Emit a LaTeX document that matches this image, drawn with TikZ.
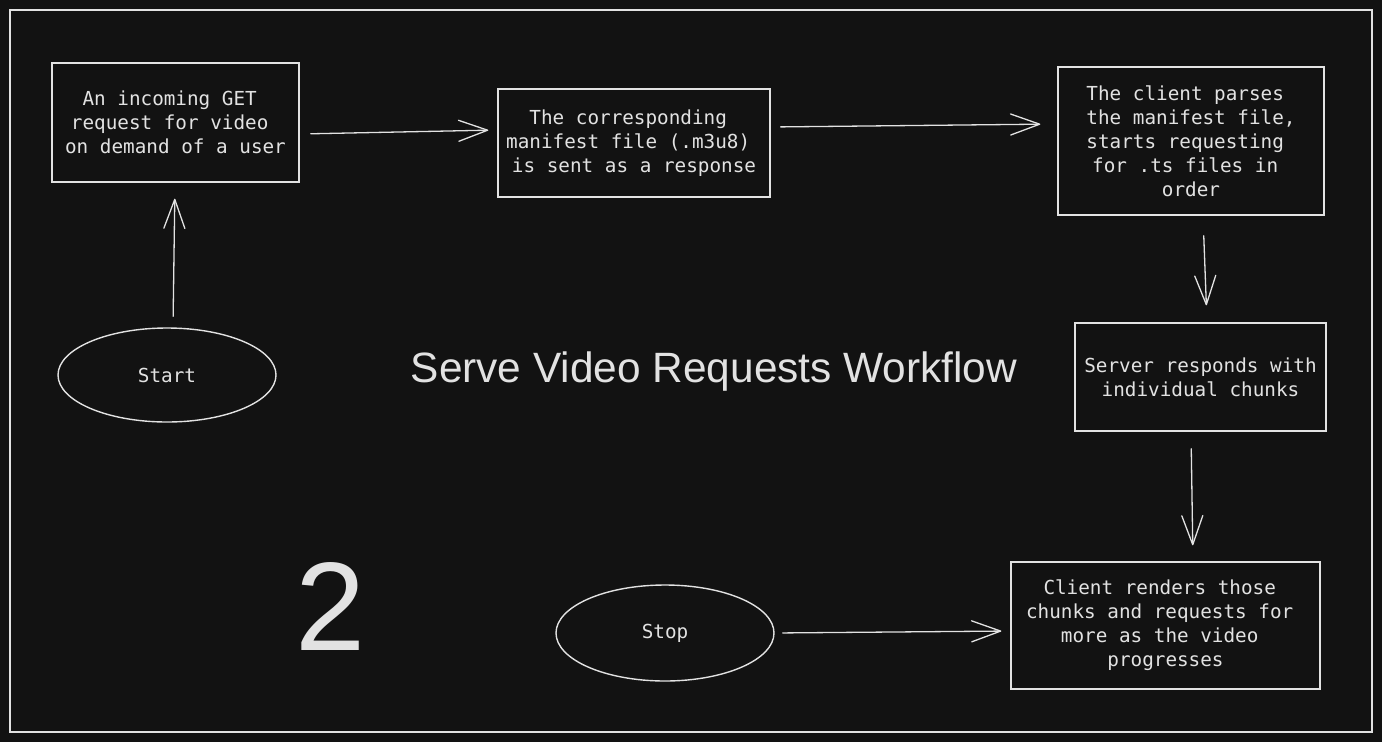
\documentclass[tikz,border=0pt]{standalone}
\usepackage{fontspec}
\setmainfont{Liberation Sans}
\newfontfamily\monof{DejaVu Sans Mono}
\usetikzlibrary{shapes.geometric,arrows.meta}
\definecolor{bg}{HTML}{121212}
\definecolor{ink}{HTML}{E2E2E2}
\newcommand{\trsp}{\phantom{x}}
\begin{document}
\begin{tikzpicture}[x=1pt,y=-1pt,
  txt/.style={text=ink, font=\monof\fontsize{19.3}{24}\selectfont, align=center, inner sep=0pt},
  box/.style={txt, draw=ink, line width=1.4pt, rectangle},
  oval/.style={txt, draw=ink, line width=1.4pt, ellipse},
  arr/.style={draw=ink, line width=1.3pt, line cap=round,
    -{Straight Barb[length=29pt,width=21pt,line width=1.3pt,round]}}
]
\useasboundingbox[fill=bg] (0,0) rectangle (1382,742);
\draw[ink, line width=1.4pt] (10,10) rectangle (1372,732);

\node[box, minimum width=247pt, minimum height=119pt] (b1) at (175.5,122.5)
  {An incoming GET\trsp\\request for video\trsp\\on demand of a user};
\node[box, minimum width=272pt, minimum height=108pt] (b2) at (634,143)
  {The corresponding\trsp\\manifest file (.m3u8)\trsp\\is sent as a response};
\node[box, minimum width=266pt, minimum height=148pt] (b3) at (1191,141)
  {The client parses\trsp\\the manifest file,\\starts requesting\trsp\\for .ts files in\trsp\\order};
\node[box, minimum width=251pt, minimum height=108pt] (b4) at (1200.5,377)
  {Server responds with\\individual chunks};
\node[box, minimum width=309pt, minimum height=127pt] (b5) at (1165.5,625.5)
  {Client renders those\trsp\\chunks and requests for\trsp\\more as the video\trsp\\progresses};
\node[oval, minimum width=218pt, minimum height=94pt] (start) at (167,375) {Start};
\node[oval, minimum width=218pt, minimum height=96pt] (stop) at (665,633) {Stop};

\node[text=ink, font=\fontsize{42.4}{50}\selectfont, inner sep=0pt, anchor=base] (title) at (714,382)
  {Serve Video Requests Workflow};
\node[text=ink, font=\fontsize{126}{140}\selectfont, inner sep=0pt, anchor=base] (num) at (331,650) {2};

\draw[arr, shorten <=11pt, shorten >=16pt] ([xshift=6pt]start.north) -- ([xshift=-0.5pt]b1.south);
\draw[arr, shorten <=11pt, shorten >=9pt] ([yshift=-11.5pt]b1.east) -- ([yshift=13pt]b2.west);
\draw[arr, shorten <=10pt, shorten >=17pt] ([yshift=16pt]b2.east) -- ([yshift=17pt]b3.west);
\draw[arr, shorten <=20pt, shorten >=17pt] ([xshift=12pt]b3.south) -- ([xshift=6.5pt]b4.north);
\draw[arr, shorten <=17pt, shorten >=16pt] ([xshift=-9.5pt]b4.south) -- ([xshift=27.5pt]b5.north);
\draw[arr, shorten <=8pt, shorten >=9pt] (stop.east) -- ([yshift=-5.5pt]b5.west);
\end{tikzpicture}
\end{document}
